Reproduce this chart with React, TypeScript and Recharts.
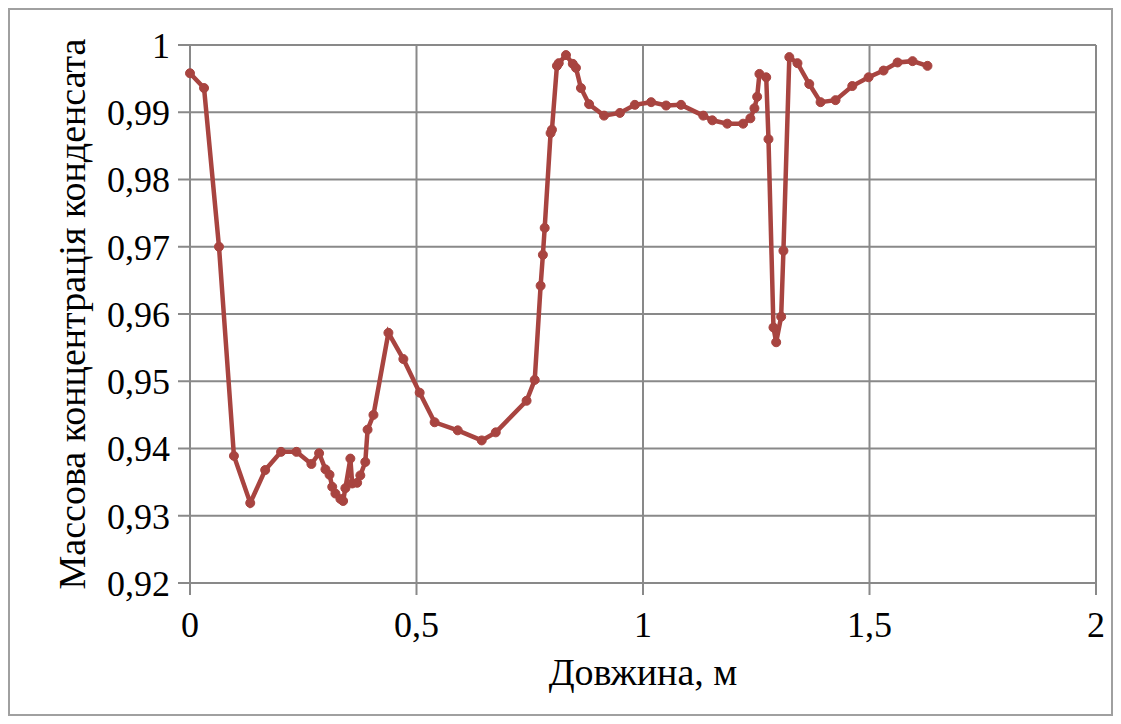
import React from 'react';
import { LineChart, Line, XAxis, YAxis, CartesianGrid } from 'recharts';

const lengthM = [
  0, 0.031, 0.064, 0.097, 0.133, 0.166, 0.201, 0.235, 0.268, 0.285,
  0.299, 0.308, 0.314, 0.321, 0.332, 0.338, 0.343, 0.354, 0.358, 0.369,
  0.376, 0.387, 0.392, 0.405, 0.438, 0.471, 0.507, 0.540, 0.591, 0.644,
  0.675, 0.743, 0.761, 0.774, 0.779, 0.783, 0.796, 0.799, 0.810, 0.814,
  0.830, 0.845, 0.852, 0.863, 0.881, 0.914, 0.949, 0.982, 1.018, 1.051,
  1.084, 1.133, 1.153, 1.186, 1.221, 1.237, 1.246, 1.252, 1.257, 1.272,
  1.277, 1.288, 1.294, 1.305, 1.310, 1.323, 1.341, 1.367, 1.392, 1.425,
  1.462, 1.498, 1.531, 1.562, 1.595, 1.628,
];

const concentration = [
  0.9958, 0.9936, 0.9700, 0.9389, 0.9319, 0.9368, 0.9395, 0.9395, 0.9377, 0.9393,
  0.9369, 0.9361, 0.9343, 0.9333, 0.9325, 0.9322, 0.9341, 0.9385, 0.9348, 0.9349,
  0.9360, 0.9380, 0.9428, 0.9450, 0.9572, 0.9533, 0.9483, 0.9439, 0.9427, 0.9412,
  0.9424, 0.9471, 0.9502, 0.9642, 0.9688, 0.9728, 0.9869, 0.9874, 0.9969, 0.9973,
  0.9985, 0.9972, 0.9966, 0.9936, 0.9912, 0.9895, 0.9899, 0.9911, 0.9915, 0.9910,
  0.9911, 0.9895, 0.9888, 0.9883, 0.9883, 0.9891, 0.9906, 0.9923, 0.9957, 0.9952,
  0.9860, 0.9580, 0.9558, 0.9596, 0.9694, 0.9982, 0.9973, 0.9942, 0.9915, 0.9918,
  0.9939, 0.9952, 0.9962, 0.9974, 0.9976, 0.9969,
];

const xTicks = [0, 0.5, 1, 1.5, 2];
const yTicks = [0.92, 0.93, 0.94, 0.95, 0.96, 0.97, 0.98, 0.99, 1];

const xTitle = 'Довжина, м';
const yTitle = 'Массова концентрація конденсата';

const data = lengthM.map((x, i) => ({ x, y: concentration[i] }));

const fmt = (v: number) => String(v).replace('.', ',');

const FONT = '"Liberation Serif", "Times New Roman", serif';
const GRID = '#898989';
const LINE = '#A84440';

export default function App() {
  return (
    <div style={{ width: 1105, height: 708, border: '2px solid #a0a0a0', boxSizing: 'border-box', background: '#fff' }}>
      <LineChart
        width={1101}
        height={704}
        data={data}
        margin={{ top: 35, right: 15, bottom: 19, left: 60 }}
      >
        <CartesianGrid stroke={GRID} strokeWidth={2} horizontal vertical />
        <XAxis
          dataKey="x"
          type="number"
          domain={[0, 2]}
          ticks={xTicks}
          tickFormatter={fmt}
          stroke={GRID}
          strokeWidth={2}
          tickSize={12}
          tickMargin={16}
          height={112}
          tick={{ fill: '#000', fontSize: 36, fontFamily: FONT }}
          label={{
            value: xTitle,
            position: 'insideBottom',
            offset: 10,
            style: { fill: '#000', fontSize: 38, fontFamily: FONT },
          }}
        />
        <YAxis
          dataKey="y"
          type="number"
          domain={[0.92, 1]}
          ticks={yTicks}
          tickFormatter={fmt}
          stroke={GRID}
          strokeWidth={2}
          tickSize={12}
          tickMargin={8}
          width={120}
          tick={{ fill: '#000', fontSize: 36, fontFamily: FONT }}
          label={{
            value: yTitle,
            angle: -90,
            position: 'insideLeft',
            offset: 2,
            style: { fill: '#000', fontSize: 38, fontFamily: FONT, textAnchor: 'middle' },
          }}
        />
        <Line
          type="linear"
          dataKey="y"
          stroke={LINE}
          strokeWidth={4.5}
          dot={{ r: 4.5, fill: LINE, stroke: LINE, strokeWidth: 1 }}
          isAnimationActive={false}
        />
      </LineChart>
    </div>
  );
}
